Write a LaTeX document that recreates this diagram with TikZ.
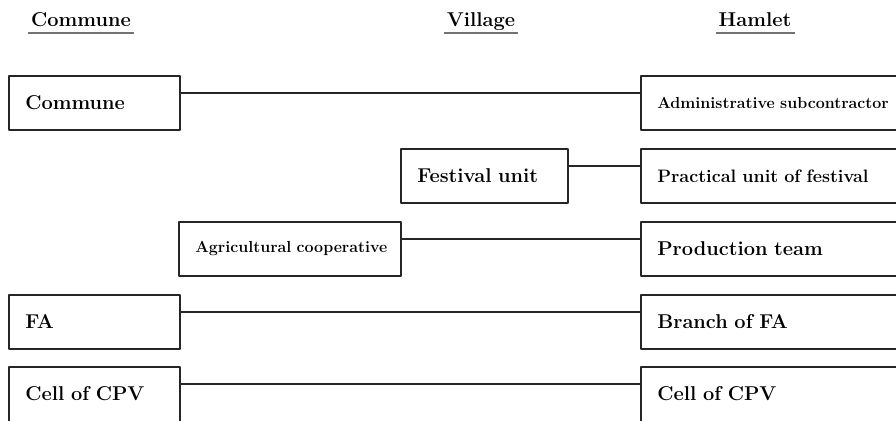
\documentclass[tikz,border=0pt]{standalone}
\begin{document}
\begin{tikzpicture}[x=1pt,y=-1pt, line join=round,
		font=\fontsize{20}{24}\selectfont\bfseries,
		unit/.style={draw=black!85, line width=1.6pt, rectangle, anchor=north west,
			minimum height=54pt, inner xsep=16.5pt, align=left, text width=#1},
		small/.style={font=\fontsize{16}{19}\selectfont\bfseries},
		medium/.style={font=\fontsize{18}{21}\selectfont\bfseries},
		link/.style={draw=black!85, line width=1.6pt},
		level/.style={anchor=base, inner xsep=3pt, inner ysep=6.5pt, text depth=0pt},
		rule/.style={draw=black!55, line width=1.8pt}]
	\useasboundingbox (0,0) rectangle (896,420);
	% column heads
	\node (hc) at (81,26.5) [level]{Commune};
	\node (hv) at (481,26.5) [level]{Village};
	\node (hh) at (755,26.5) [level]{Hamlet};
	\foreach \h in {hc,hv,hh}
	{\draw[rule] (\h.south west)--(\h.south east);}
	% commune level
	\node (com) at (8,75) [unit=138pt]{Commune};
	\node (agr) at (178,221) [unit=189pt, small]{\mbox{Agricultural cooperative}};
	\node (fa) at (8,294) [unit=138pt]{FA};
	\node (cpv) at (8,366) [unit=138pt, minimum height=62pt, text depth=8pt]{Cell of CPV};
	% village level
	\node (fes) at (400,148) [unit=134pt]{Festival unit};
	% hamlet level
	\node (adm) at (640,75) [unit=250pt, small]{Administrative subcontractor};
	\node (pra) at (640,148) [unit=250pt, medium]{Practical unit of festival};
	\node (pro) at (640,221) [unit=250pt]{Production team};
	\node (bfa) at (640,294) [unit=250pt]{Branch of FA};
	\node (cph) at (640,366) [unit=250pt, minimum height=62pt, text depth=8pt]{Cell of CPV};
	% links
	\foreach \a/\b in {com/adm,fes/pra,agr/pro,fa/bfa,cpv/cph}
	{\draw[link] ([yshift=-18pt]\a.north east)--([yshift=-18pt]\b.north west);}
\end{tikzpicture}
\end{document}
